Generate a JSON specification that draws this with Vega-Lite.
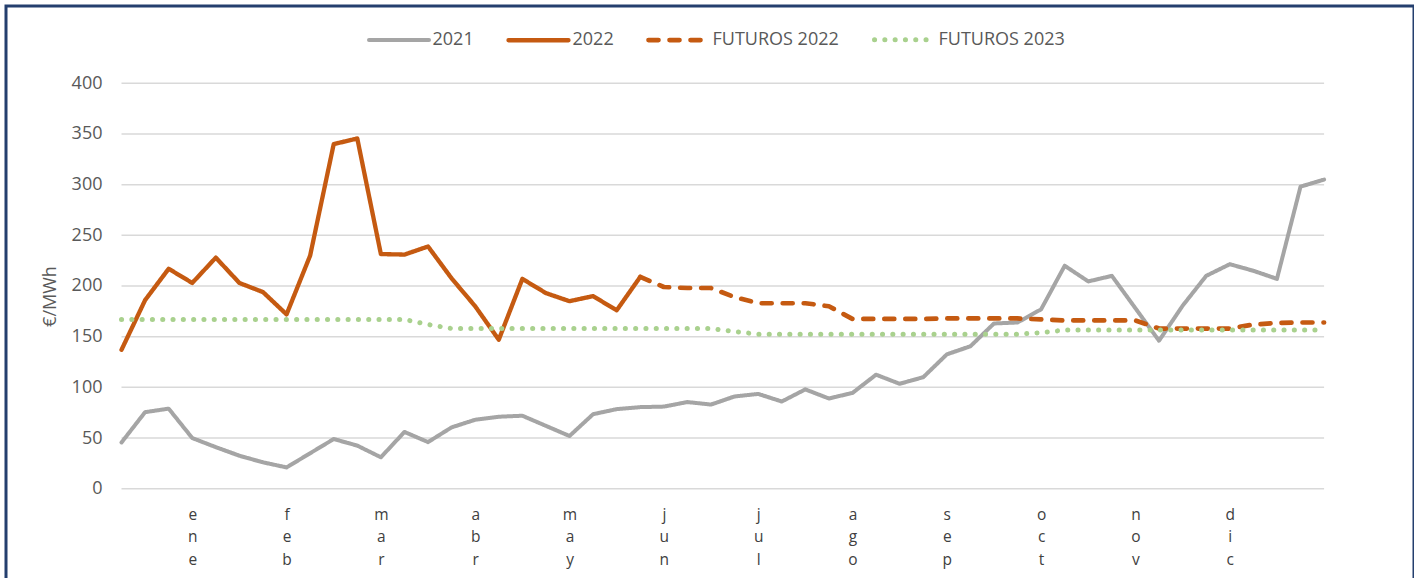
{
  "$schema": "https://vega.github.io/schema/vega-lite/v6.json",
  "width": 1408,
  "height": 600,
  "autosize": {"type": "none"},
  "padding": {"left": 6, "top": 6, "right": 0, "bottom": 0},
  "background": "white",
  "config": {
    "view": {"stroke": "#243F6E", "strokeWidth": 3},
    "font": "Open Sans"
  },
  "datasets": {
    "grid": [{"v": 0}, {"v": 50}, {"v": 100}, {"v": 150}, {"v": 200}, {"v": 250}, {"v": 300}, {"v": 350}, {"v": 400}],
    "series": [
      {"w": 0, "s": "2021", "v": 45.6}, {"w": 1, "s": "2021", "v": 75.5}, {"w": 2, "s": "2021", "v": 79}, {"w": 3, "s": "2021", "v": 50},
      {"w": 4, "s": "2021", "v": 41}, {"w": 5, "s": "2021", "v": 32.5}, {"w": 6, "s": "2021", "v": 26}, {"w": 7, "s": "2021", "v": 21},
      {"w": 8, "s": "2021", "v": 35}, {"w": 9, "s": "2021", "v": 49}, {"w": 10, "s": "2021", "v": 42.5}, {"w": 11, "s": "2021", "v": 31},
      {"w": 12, "s": "2021", "v": 56}, {"w": 13, "s": "2021", "v": 46}, {"w": 14, "s": "2021", "v": 60.5}, {"w": 15, "s": "2021", "v": 68},
      {"w": 16, "s": "2021", "v": 71}, {"w": 17, "s": "2021", "v": 72}, {"w": 18, "s": "2021", "v": 62}, {"w": 19, "s": "2021", "v": 52},
      {"w": 20, "s": "2021", "v": 73.5}, {"w": 21, "s": "2021", "v": 78.5}, {"w": 22, "s": "2021", "v": 80.5}, {"w": 23, "s": "2021", "v": 81},
      {"w": 24, "s": "2021", "v": 85.5}, {"w": 25, "s": "2021", "v": 83}, {"w": 26, "s": "2021", "v": 91}, {"w": 27, "s": "2021", "v": 93.5},
      {"w": 28, "s": "2021", "v": 86}, {"w": 29, "s": "2021", "v": 98}, {"w": 30, "s": "2021", "v": 89}, {"w": 31, "s": "2021", "v": 94.5},
      {"w": 32, "s": "2021", "v": 112.5}, {"w": 33, "s": "2021", "v": 103.5}, {"w": 34, "s": "2021", "v": 110}, {"w": 35, "s": "2021", "v": 132.5},
      {"w": 36, "s": "2021", "v": 140.5}, {"w": 37, "s": "2021", "v": 163}, {"w": 38, "s": "2021", "v": 164}, {"w": 39, "s": "2021", "v": 177},
      {"w": 40, "s": "2021", "v": 220}, {"w": 41, "s": "2021", "v": 204.5}, {"w": 42, "s": "2021", "v": 210}, {"w": 43, "s": "2021", "v": 178},
      {"w": 44, "s": "2021", "v": 146}, {"w": 45, "s": "2021", "v": 180.5}, {"w": 46, "s": "2021", "v": 210}, {"w": 47, "s": "2021", "v": 221.5},
      {"w": 48, "s": "2021", "v": 215}, {"w": 49, "s": "2021", "v": 207}, {"w": 50, "s": "2021", "v": 298}, {"w": 51, "s": "2021", "v": 305},

      {"w": 0, "s": "2022", "v": 137}, {"w": 1, "s": "2022", "v": 186}, {"w": 2, "s": "2022", "v": 217}, {"w": 3, "s": "2022", "v": 203},
      {"w": 4, "s": "2022", "v": 228}, {"w": 5, "s": "2022", "v": 203}, {"w": 6, "s": "2022", "v": 194}, {"w": 7, "s": "2022", "v": 172},
      {"w": 8, "s": "2022", "v": 230}, {"w": 9, "s": "2022", "v": 340}, {"w": 10, "s": "2022", "v": 345.5}, {"w": 11, "s": "2022", "v": 231.5},
      {"w": 12, "s": "2022", "v": 231}, {"w": 13, "s": "2022", "v": 239}, {"w": 14, "s": "2022", "v": 207.5}, {"w": 15, "s": "2022", "v": 180},
      {"w": 16, "s": "2022", "v": 147}, {"w": 17, "s": "2022", "v": 207}, {"w": 18, "s": "2022", "v": 193}, {"w": 19, "s": "2022", "v": 185},
      {"w": 20, "s": "2022", "v": 190}, {"w": 21, "s": "2022", "v": 176}, {"w": 22, "s": "2022", "v": 209},

      {"w": 22, "s": "FUTUROS 2022", "v": 209}, {"w": 23, "s": "FUTUROS 2022", "v": 199}, {"w": 24, "s": "FUTUROS 2022", "v": 198},
      {"w": 25, "s": "FUTUROS 2022", "v": 198}, {"w": 26, "s": "FUTUROS 2022", "v": 189}, {"w": 27, "s": "FUTUROS 2022", "v": 183},
      {"w": 28, "s": "FUTUROS 2022", "v": 183}, {"w": 29, "s": "FUTUROS 2022", "v": 183}, {"w": 30, "s": "FUTUROS 2022", "v": 180},
      {"w": 31, "s": "FUTUROS 2022", "v": 167.5}, {"w": 32, "s": "FUTUROS 2022", "v": 167.5}, {"w": 33, "s": "FUTUROS 2022", "v": 167.5},
      {"w": 34, "s": "FUTUROS 2022", "v": 167.5}, {"w": 35, "s": "FUTUROS 2022", "v": 168}, {"w": 36, "s": "FUTUROS 2022", "v": 168},
      {"w": 37, "s": "FUTUROS 2022", "v": 168}, {"w": 38, "s": "FUTUROS 2022", "v": 168}, {"w": 39, "s": "FUTUROS 2022", "v": 167},
      {"w": 40, "s": "FUTUROS 2022", "v": 166}, {"w": 41, "s": "FUTUROS 2022", "v": 166}, {"w": 42, "s": "FUTUROS 2022", "v": 166},
      {"w": 43, "s": "FUTUROS 2022", "v": 166}, {"w": 44, "s": "FUTUROS 2022", "v": 158}, {"w": 45, "s": "FUTUROS 2022", "v": 158},
      {"w": 46, "s": "FUTUROS 2022", "v": 158}, {"w": 47, "s": "FUTUROS 2022", "v": 158}, {"w": 48, "s": "FUTUROS 2022", "v": 162},
      {"w": 49, "s": "FUTUROS 2022", "v": 163.5}, {"w": 50, "s": "FUTUROS 2022", "v": 164}, {"w": 51, "s": "FUTUROS 2022", "v": 164},

      {"w": 0, "s": "FUTUROS 2023", "v": 167}, {"w": 1, "s": "FUTUROS 2023", "v": 167}, {"w": 2, "s": "FUTUROS 2023", "v": 167},
      {"w": 3, "s": "FUTUROS 2023", "v": 167}, {"w": 4, "s": "FUTUROS 2023", "v": 167}, {"w": 5, "s": "FUTUROS 2023", "v": 167},
      {"w": 6, "s": "FUTUROS 2023", "v": 167}, {"w": 7, "s": "FUTUROS 2023", "v": 167}, {"w": 8, "s": "FUTUROS 2023", "v": 167},
      {"w": 9, "s": "FUTUROS 2023", "v": 167}, {"w": 10, "s": "FUTUROS 2023", "v": 167}, {"w": 11, "s": "FUTUROS 2023", "v": 167},
      {"w": 12, "s": "FUTUROS 2023", "v": 167}, {"w": 13, "s": "FUTUROS 2023", "v": 162}, {"w": 14, "s": "FUTUROS 2023", "v": 158},
      {"w": 15, "s": "FUTUROS 2023", "v": 158}, {"w": 16, "s": "FUTUROS 2023", "v": 158}, {"w": 17, "s": "FUTUROS 2023", "v": 158},
      {"w": 18, "s": "FUTUROS 2023", "v": 158}, {"w": 19, "s": "FUTUROS 2023", "v": 158}, {"w": 20, "s": "FUTUROS 2023", "v": 158},
      {"w": 21, "s": "FUTUROS 2023", "v": 158}, {"w": 22, "s": "FUTUROS 2023", "v": 158}, {"w": 23, "s": "FUTUROS 2023", "v": 158},
      {"w": 24, "s": "FUTUROS 2023", "v": 158}, {"w": 25, "s": "FUTUROS 2023", "v": 158}, {"w": 26, "s": "FUTUROS 2023", "v": 155},
      {"w": 27, "s": "FUTUROS 2023", "v": 152.5}, {"w": 28, "s": "FUTUROS 2023", "v": 152.5}, {"w": 29, "s": "FUTUROS 2023", "v": 152.5},
      {"w": 30, "s": "FUTUROS 2023", "v": 152.5}, {"w": 31, "s": "FUTUROS 2023", "v": 152.5}, {"w": 32, "s": "FUTUROS 2023", "v": 152.5},
      {"w": 33, "s": "FUTUROS 2023", "v": 152.5}, {"w": 34, "s": "FUTUROS 2023", "v": 152.5}, {"w": 35, "s": "FUTUROS 2023", "v": 152.5},
      {"w": 36, "s": "FUTUROS 2023", "v": 152.5}, {"w": 37, "s": "FUTUROS 2023", "v": 152.5}, {"w": 38, "s": "FUTUROS 2023", "v": 152.5},
      {"w": 39, "s": "FUTUROS 2023", "v": 154}, {"w": 40, "s": "FUTUROS 2023", "v": 156.5}, {"w": 41, "s": "FUTUROS 2023", "v": 156.5},
      {"w": 42, "s": "FUTUROS 2023", "v": 156.5}, {"w": 43, "s": "FUTUROS 2023", "v": 156.5}, {"w": 44, "s": "FUTUROS 2023", "v": 156.5},
      {"w": 45, "s": "FUTUROS 2023", "v": 156.5}, {"w": 46, "s": "FUTUROS 2023", "v": 156.5}, {"w": 47, "s": "FUTUROS 2023", "v": 156.5},
      {"w": 48, "s": "FUTUROS 2023", "v": 156.5}, {"w": 49, "s": "FUTUROS 2023", "v": 156.5}, {"w": 50, "s": "FUTUROS 2023", "v": 156.5},
      {"w": 51, "s": "FUTUROS 2023", "v": 156.5}
    ]
  },
  "layer": [
    {
      "data": {"name": "grid"},
      "mark": {"type": "rule", "color": "#D9D9D9", "strokeWidth": 1.5},
      "encoding": {
        "y": {"field": "v", "type": "quantitative", "scale": {"domain": [-115.74, 476.27], "nice": false, "zero": false}, "title": "€/MWh"},
        "x": {"datum": 0, "type": "quantitative", "scale": {"domain": [-4.898, 54.813], "nice": false, "zero": false}, "title": null},
        "x2": {"datum": 51}
      }
    },
    {
      "data": {"name": "series"},
      "mark": {"type": "line", "strokeCap": "round", "strokeJoin": "round"},
      "encoding": {
        "x": {
          "field": "w", "type": "quantitative",
          "scale": {"domain": [-4.898, 54.813], "nice": false, "zero": false},
          "title": null,
          "axis": {
            "orient": "bottom", "offset": -117.3, "values": [3, 7, 11, 15, 19, 23, 27, 31, 35, 39, 43, 47],
            "labelExpr": "split(['ene','feb','mar','abr','may','jun','jul','ago','sep','oct','nov','dic'][(datum.value - 3) / 4], '')",
            "domain": false, "ticks": false, "grid": false, "labelAngle": 0,
            "labelFontSize": 15.5, "labelLineHeight": 22.5, "labelColor": "#404040", "labelBaseline": "top",
            "labelPadding": 18.5, "labelFlush": false, "labelOverlap": false
          }
        },
        "y": {
          "field": "v", "type": "quantitative",
          "scale": {"domain": [-115.74, 476.27], "nice": false, "zero": false},
          "title": "€/MWh",
          "axis": {
            "orient": "left", "offset": -115.5, "values": [0, 50, 100, 150, 200, 250, 300, 350, 400],
            "domain": false, "ticks": false, "grid": false,
            "labelPadding": 19.5, "labelFontSize": 18, "labelColor": "#595959",
            "titleFontSize": 18, "titleFontWeight": "normal", "titleColor": "#595959",
            "titleAngle": -90, "titleX": -71.5, "titleY": 290, "titleAlign": "center", "titleBaseline": "middle"
          }
        },
        "color": {
          "field": "s", "type": "nominal",
          "scale": {"domain": ["2021", "2022", "FUTUROS 2022", "FUTUROS 2023"], "range": ["#A5A5A5", "#C55A11", "#C55A11", "#A9D18E"]},
          "legend": {
            "title": null, "orient": "none", "legendX": 361, "legendY": 1, "direction": "horizontal",
            "symbolType": "stroke", "symbolSize": 3600, "symbolStrokeWidth": 4,
            "labelFontSize": 18, "labelColor": "#595959", "labelOffset": 1.5, "columnPadding": 25, "padding": 0,
            "encode": {"symbols": {"update": {"strokeCap": {"value": "round"}}}}
          }
        },
        "strokeDash": {
          "field": "s", "type": "nominal",
          "scale": {"domain": ["2021", "2022", "FUTUROS 2022", "FUTUROS 2023"], "range": [[1, 0], [1, 0], [10, 11], [0.1, 10.2]]},
          "legend": {
            "title": null, "orient": "none", "legendX": 361, "legendY": 1, "direction": "horizontal",
            "symbolType": "stroke", "symbolSize": 3600, "symbolStrokeWidth": 4,
            "labelFontSize": 18, "labelColor": "#595959", "labelOffset": 1.5, "columnPadding": 25, "padding": 0,
            "encode": {"symbols": {"update": {"strokeCap": {"value": "round"}}}}
          }
        },
        "strokeWidth": {
          "field": "s", "type": "nominal",
          "scale": {"domain": ["2021", "2022", "FUTUROS 2022", "FUTUROS 2023"], "range": [4, 5, 5, 4]},
          "legend": null
        }
      }
    }
  ]
}
